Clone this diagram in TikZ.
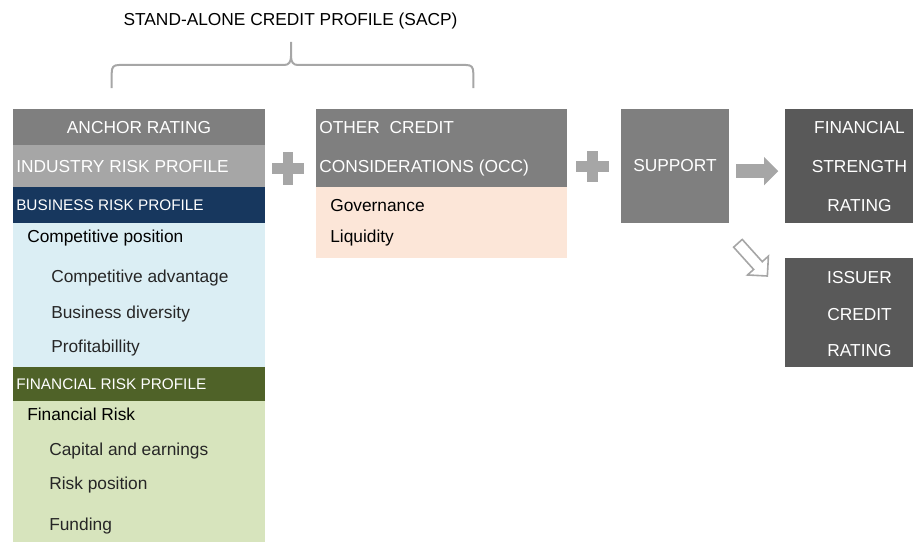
\documentclass[tikz,border=0pt]{standalone}
\usepackage{fontspec}
\setmainfont{Liberation Sans}
\usetikzlibrary{fit,calc,shapes.arrows,arrows.meta}

\definecolor{grayA}{HTML}{7F7F7F}
\definecolor{grayB}{HTML}{A6A6A6}
\definecolor{grayC}{HTML}{595959}
\definecolor{navy}{HTML}{17375E}
\definecolor{olive}{HTML}{4F6228}
\definecolor{paleblue}{HTML}{DBEEF4}
\definecolor{palegreen}{HTML}{D7E4BD}
\definecolor{peach}{HTML}{FCE6D8}

\tikzset{
  block/.style={inner sep=0pt,outer sep=0pt},
  big/.style={font=\fontsize{13}{15}\selectfont},
  small/.style={font=\fontsize{11.5}{13}\selectfont},
  txt/.style={inner sep=0pt,anchor=base west},
  sub/.style={txt,big,text=black!85},
  ctxt/.style={big,inner sep=0pt,anchor=base,text=white}
}

\begin{document}
\begin{tikzpicture}[x=0.75pt,y=-0.75pt]
\useasboundingbox (0,0) rectangle (916,542);
%Построение блоков
\node[block,fill=grayA,fit={(12.7,109)(265,145)}] (anchor) {};
\node[block,fill=grayB,fit={(12.7,145)(265,187.3)}] (industry) {};
\node[block,fill=navy,fit={(12.7,187.3)(265,222.7)}] (business) {};
\node[block,fill=paleblue,fit={(12.7,222.7)(265,366.7)}] (businesslist) {};
\node[block,fill=olive,fit={(12.7,366.7)(265,400.7)}] (financial) {};
\node[block,fill=palegreen,fit={(12.7,400.7)(265,542)}] (financiallist) {};
\node[block,fill=grayA,fit={(316,109)(567.3,186.7)}] (occ) {};
\node[block,fill=peach,fit={(316,186.7)(567.3,258.3)}] (occlist) {};
\node[block,fill=grayA,fit={(621,109)(729,222.7)}] (support) {};
\node[block,fill=grayC,fit={(785,109)(912.7,222.7)}] (fsr) {};
\node[block,fill=grayC,fit={(785,258.3)(912.7,366.7)}] (icr) {};
%подписи
\node[big,inner sep=0pt,anchor=base] (sacp) at (290.5,25.3) {STAND-ALONE CREDIT PROFILE (SACP)};
\node[ctxt] (anchortxt) at (139,133.3) {ANCHOR RATING};
\node[txt,big,text=white] (industrytxt) at (16,172.7) {INDUSTRY RISK PROFILE};
\node[txt,small,text=white] (businesstxt) at (16,210.7) {BUSINESS RISK PROFILE};
\node[txt,big] (comppos) at (27,242.7) {Competitive position};
\node[sub] (compadv) at (51,282.7) {Competitive advantage};
\node[sub] (busdiv) at (51,318) {Business diversity};
\node[sub] (profit) at (51,352.3) {Profitabillity};
\node[txt,small,text=white] (financialtxt) at (16,389.3) {FINANCIAL RISK PROFILE};
\node[txt,big] (finrisk) at (27,420) {Financial Risk};
\node[sub] (capital) at (49,455.7) {Capital and earnings};
\node[sub] (riskpos) at (49,489.3) {Risk position};
\node[sub] (funding) at (49,530) {Funding};
\node[txt,big,text=white] (occtxta) at (319,133.3) {OTHER\ \ CREDIT};
\node[txt,big,text=white] (occtxtb) at (319,172.7) {CONSIDERATIONS (OCC)};
\node[txt,big] (governance) at (330,211) {Governance};
\node[txt,big] (liquidity) at (330,242.7) {Liquidity};
\node[ctxt] (supporttxt) at (675,171.7) {SUPPORT};
\foreach \y/\t/\n in {133.3/FINANCIAL/a,172.7/STRENGTH/b,211.7/RATING/c}
  \node[ctxt] (fsr\n) at (859.5,\y) {\t};
\foreach \y/\t/\n in {283.7/ISSUER/a,320.7/CREDIT/b,356/RATING/c}
  \node[ctxt] (icr\n) at (859.5,\y) {\t};
%фигурная скобка
\draw[grayB,line width=1.5pt]
(111.7,88) -- (111.7,73) .. controls (111.7,67) and (113.5,65) .. (119,65)
 -- (284,65) .. controls (289,65) and (291,62) .. (291,56) -- (291,42);
\draw[grayB,line width=1.5pt]
(473.3,88) -- (473.3,73) .. controls (473.3,67) and (471.5,65) .. (466,65)
 -- (298,65) .. controls (293,65) and (291,62) .. (291,56);
%плюсы
\fill[grayB] (272,162.8) rectangle (304,174);
\fill[grayB] (282.6,151.7) rectangle (293.3,185);
\fill[grayB] (576,161) rectangle (608.7,172);
\fill[grayB] (587,150.7) rectangle (597.7,182);
%стрелки
\draw[grayB,line width=10.7pt,-{Triangle[length=10.7pt,width=20.8pt]}]
($(support.east)+(7,5.3)$) -- ($(fsr.west)+(-6.7,5.3)$);
\node[single arrow,draw=grayB,fill=white,line width=1.2pt,rotate=-48,
  inner xsep=0pt,inner ysep=3.75pt,minimum height=33pt,
  single arrow head extend=6.2pt] (toicr) at (750.7,257.5) {};
\end{tikzpicture}
\end{document}
